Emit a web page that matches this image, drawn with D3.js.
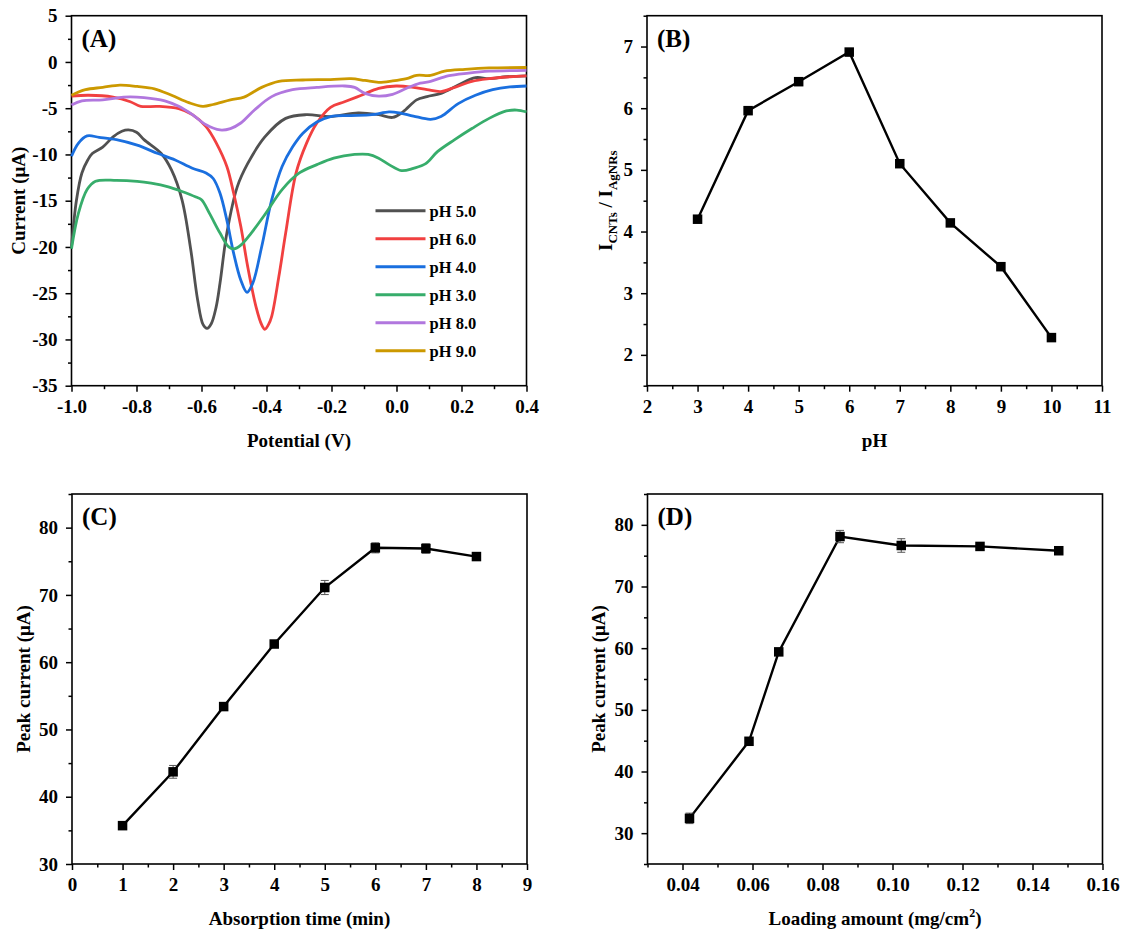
<!DOCTYPE html>
<html>
<head>
<meta charset="utf-8">
<script src="https://cdn.jsdelivr.net/npm/d3@7"></script>
<style>
body { margin: 0; background: #fff; }
text { font-family: "Liberation Serif", "Times New Roman", serif; font-weight: bold; fill: #000; }
</style>
</head>
<body>
<div id="chart-area"></div>
<script>
// ---- panel A: DPV curves, [potential (V), current (uA)] ----
var phLabels = ["pH 5.0", "pH 6.0", "pH 4.0", "pH 3.0", "pH 8.0", "pH 9.0"];
var phColors = ["#515151", "#F14040", "#1A6FDF", "#37AD6B", "#B177DE", "#CC9900"];

var ph50 = [[-1.000,-20.0],[-0.985,-15.0],[-0.968,-12.0],[-0.950,-10.6],[-0.936,-9.9],[-0.904,-9.2],[-0.872,-8.1],[-0.845,-7.5],[-0.825,-7.35],[-0.800,-7.6],[-0.777,-8.4],[-0.724,-9.9],[-0.692,-11.7],[-0.660,-14.9],[-0.633,-20.3],[-0.612,-25.7],[-0.595,-28.4],[-0.583,-28.8],[-0.570,-28.3],[-0.555,-26.5],[-0.543,-23.9],[-0.522,-18.5],[-0.490,-13.5],[-0.458,-11.0],[-0.405,-8.1],[-0.341,-6.1],[-0.278,-5.7],[-0.203,-5.9],[-0.118,-5.5],[-0.055,-5.7],[-0.012,-6.0],[0.020,-5.4],[0.062,-4.1],[0.094,-3.75],[0.137,-3.4],[0.190,-2.5],[0.243,-1.7],[0.285,-1.8],[0.338,-1.6],[0.400,-1.5]];
var ph60 = [[-1.000,-3.7],[-0.947,-3.6],[-0.872,-3.8],[-0.819,-4.3],[-0.787,-4.8],[-0.734,-4.8],[-0.670,-5.05],[-0.628,-5.7],[-0.586,-7.0],[-0.554,-8.8],[-0.522,-11.3],[-0.501,-14.2],[-0.479,-17.8],[-0.458,-22.1],[-0.432,-26.5],[-0.415,-28.4],[-0.405,-28.9],[-0.394,-28.4],[-0.384,-27.5],[-0.362,-23.2],[-0.341,-18.5],[-0.309,-12.0],[-0.277,-8.8],[-0.245,-6.6],[-0.203,-4.9],[-0.160,-4.3],[-0.108,-3.6],[-0.055,-2.85],[-0.001,-2.6],[0.052,-2.75],[0.094,-3.0],[0.137,-3.2],[0.179,-2.75],[0.232,-2.1],[0.285,-1.8],[0.349,-1.6],[0.400,-1.5]];
var ph40 = [[-1.000,-10.2],[-0.979,-8.8],[-0.952,-8.0],[-0.915,-8.15],[-0.862,-8.4],[-0.798,-9.0],[-0.734,-9.9],[-0.681,-10.6],[-0.628,-11.5],[-0.586,-12.0],[-0.564,-12.6],[-0.543,-14.2],[-0.522,-17.1],[-0.501,-20.7],[-0.479,-23.6],[-0.460,-24.9],[-0.442,-23.9],[-0.415,-20.0],[-0.384,-14.9],[-0.352,-11.3],[-0.320,-9.2],[-0.288,-7.7],[-0.245,-6.5],[-0.203,-5.9],[-0.140,-5.8],[-0.076,-5.7],[-0.023,-5.4],[0.009,-5.5],[0.052,-5.85],[0.105,-6.2],[0.137,-5.9],[0.190,-4.5],[0.243,-3.6],[0.296,-3.0],[0.349,-2.7],[0.400,-2.6]];
var ph30 = [[-1.000,-20.2],[-0.979,-16.4],[-0.952,-13.8],[-0.926,-12.9],[-0.862,-12.8],[-0.798,-12.9],[-0.755,-13.1],[-0.702,-13.5],[-0.660,-14.0],[-0.617,-14.6],[-0.600,-14.9],[-0.575,-16.4],[-0.543,-18.5],[-0.516,-20.0],[-0.500,-20.2],[-0.479,-19.8],[-0.447,-18.5],[-0.405,-16.5],[-0.352,-13.8],[-0.299,-12.0],[-0.245,-11.1],[-0.193,-10.4],[-0.129,-10.0],[-0.087,-10.0],[-0.055,-10.4],[-0.023,-11.1],[0.015,-11.75],[0.052,-11.5],[0.090,-11.0],[0.126,-9.7],[0.179,-8.4],[0.232,-7.2],[0.285,-6.1],[0.338,-5.3],[0.370,-5.2],[0.400,-5.4]];
var ph80 = [[-1.000,-4.65],[-0.968,-4.2],[-0.904,-4.1],[-0.840,-3.8],[-0.777,-3.85],[-0.713,-4.2],[-0.670,-4.8],[-0.628,-5.7],[-0.586,-6.8],[-0.543,-7.35],[-0.511,-7.2],[-0.479,-6.6],[-0.437,-5.2],[-0.384,-3.75],[-0.320,-3.0],[-0.245,-2.75],[-0.160,-2.6],[-0.129,-2.75],[-0.097,-3.4],[-0.055,-3.7],[-0.012,-3.5],[0.031,-2.85],[0.073,-2.3],[0.105,-2.1],[0.158,-1.5],[0.222,-1.2],[0.285,-1.0],[0.400,-0.9]];
var ph90 = [[-1.000,-3.6],[-0.957,-3.0],[-0.904,-2.75],[-0.851,-2.5],[-0.798,-2.65],[-0.745,-2.9],[-0.692,-3.6],[-0.639,-4.4],[-0.596,-4.8],[-0.564,-4.6],[-0.511,-4.1],[-0.469,-3.8],[-0.415,-2.75],[-0.362,-2.1],[-0.288,-1.95],[-0.203,-1.9],[-0.140,-1.8],[-0.097,-2.0],[-0.055,-2.2],[-0.012,-2.05],[0.031,-1.8],[0.062,-1.45],[0.105,-1.45],[0.148,-1.0],[0.211,-0.8],[0.285,-0.65],[0.400,-0.6]];
var phCurves = [ph50, ph60, ph40, ph30, ph80, ph90];

// ---- panel B ----
var phValues = [3, 4, 5, 6, 7, 8, 9, 10];
var ratioValues = [4.2, 5.96, 6.43, 6.91, 5.1, 4.14, 3.43, 2.28];

// ---- panel C ----
var timeValues = [1, 2, 3, 4, 5, 6, 7, 8];
var timeCurrent = [35.7, 43.7, 53.4, 62.7, 71.1, 77.0, 76.9, 75.7];
var timeError = [0.3, 0.95, 0.4, 0.5, 1.05, 0.75, 0.7, 0.3];

// ---- panel D ----
var loadValues = [0.042, 0.059, 0.0675, 0.085, 0.1025, 0.125, 0.1475];
var loadCurrent = [32.4, 44.9, 59.4, 78.1, 76.65, 76.5, 75.8];
var loadError = [0.85, 0.3, 0.5, 1.0, 1.1, 0.4, 0.3];

// ---- tick labels ----
var aTicksX = [-1.0, -0.8, -0.6, -0.4, -0.2, 0.0, 0.2, 0.4];
var aTicksY = [-35, -30, -25, -20, -15, -10, -5, 0, 5];
var bTicksX = [2, 3, 4, 5, 6, 7, 8, 9, 10, 11];
var bTicksY = [2, 3, 4, 5, 6, 7];
var cTicksX = [0, 1, 2, 3, 4, 5, 6, 7, 8, 9];
var cTicksY = [30, 40, 50, 60, 70, 80];
var dTicksX = [0.04, 0.06, 0.08, 0.10, 0.12, 0.14, 0.16];
var dTicksY = [30, 40, 50, 60, 70, 80];

var svg = d3.select("#chart-area")
  .append("svg")
  .attr("width", 1126)
  .attr("height", 938);

var pw = 455, ph = 370;

function minorBetween(ticks, n) {
  var out = [];
  for (var i = 0; i < ticks.length - 1; i++) {
    for (var k = 1; k < n; k++) out.push(ticks[i] + (ticks[i + 1] - ticks[i]) * k / n);
  }
  return out;
}

function makePanel(p) {
  var g = svg.append("g")
    .attr("transform", "translate(" + p.left + "," + p.top + ")");

  var x = d3.scaleLinear().domain(p.xDomain).range([0, pw]);
  var y = d3.scaleLinear().domain(p.yDomain).range([ph, 0]);

  // minor ticks
  g.append("g")
    .attr("transform", "translate(0," + ph + ")")
    .call(d3.axisBottom(x).tickValues(p.xMinor).tickSize(3.5).tickSizeOuter(0).tickFormat(""));
  g.append("g")
    .call(d3.axisLeft(y).tickValues(p.yMinor).tickSize(3.5).tickSizeOuter(0).tickFormat(""));

  g.append("g")
    .attr("class", "x axis")
    .attr("transform", "translate(0," + ph + ")")
    .call(d3.axisBottom(x).tickValues(p.xTicks).tickSize(6).tickSizeOuter(0).tickPadding(8).tickFormat(p.xFmt));
  g.append("g")
    .attr("class", "y axis")
    .call(d3.axisLeft(y).tickValues(p.yTicks).tickSize(6).tickSizeOuter(0).tickPadding(8).tickFormat(p.yFmt));

  g.selectAll(".domain").remove();
  g.selectAll(".tick line").attr("stroke", "#000").attr("stroke-width", 1.5);
  g.selectAll(".tick text").attr("font-size", "19px").attr("fill", "#000");

  g.append("rect")
    .attr("width", pw)
    .attr("height", ph)
    .attr("fill", "none")
    .attr("stroke", "#000")
    .attr("stroke-width", 1.6);

  // panel letter
  g.append("text")
    .attr("x", 10)
    .attr("y", 31)
    .attr("font-size", "25px")
    .text(p.label);

  var xt = g.append("text")
    .attr("x", pw / 2)
    .attr("y", ph + 61)
    .attr("font-size", "19px")
    .attr("text-anchor", "middle");
  p.xTitle(xt);

  var yt = g.append("text")
    .attr("transform", "translate(" + p.yTitleX + "," + (ph / 2) + ") rotate(-90)")
    .attr("font-size", "19px")
    .attr("text-anchor", "middle");
  p.yTitle(yt);

  return { g: g, x: x, y: y };
}

function fmt(n) { return function (d) { return d.toFixed(n); }; }

// ---------- panel A ----------
var A = makePanel({
  left: 71.5, top: 15.7,
  xDomain: [-1.0, 0.4], yDomain: [-35, 5],
  xTicks: aTicksX, yTicks: aTicksY,
  xMinor: minorBetween(aTicksX, 2), yMinor: minorBetween(aTicksY, 2),
  xFmt: fmt(1), yFmt: fmt(0),
  label: "(A)",
  xTitle: function (t) { t.text("Potential (V)"); },
  yTitleX: -47,
  yTitle: function (t) { t.text("Current (\u03bcA)"); }
});

var lineA = d3.line()
  .x(function (d) { return A.x(d[0]); })
  .y(function (d) { return A.y(d[1]); })
  .curve(d3.curveCatmullRom.alpha(0.5));

A.g.selectAll(".dpv")
  .data(phCurves)
  .enter().append("path")
  .attr("class", "dpv")
  .attr("d", lineA)
  .attr("fill", "none")
  .attr("stroke", function (d, i) { return phColors[i]; })
  .attr("stroke-width", 2.8)
  .attr("stroke-linejoin", "round");

var legend = A.g.append("g")
  .attr("transform", "translate(304,195)");
phLabels.forEach(function (lab, i) {
  legend.append("line")
    .attr("x1", 0).attr("x2", 50)
    .attr("y1", i * 28).attr("y2", i * 28)
    .attr("stroke", phColors[i])
    .attr("stroke-width", 3);
  legend.append("text")
    .attr("x", 54)
    .attr("y", i * 28 + 6)
    .attr("font-size", "16.5px")
    .text(lab);
});

// ---------- panel B ----------
var B = makePanel({
  left: 647, top: 15.7,
  xDomain: [2, 11], yDomain: [1.5, 7.5],
  xTicks: bTicksX, yTicks: bTicksY,
  xMinor: minorBetween(bTicksX, 2), yMinor: [1.5, 2.5, 3.5, 4.5, 5.5, 6.5, 7.5],
  xFmt: fmt(0), yFmt: fmt(0),
  label: "(B)",
  xTitle: function (t) { t.text("pH"); },
  yTitleX: -35,
  yTitle: function (t) {
    t.append("tspan").text("I");
    t.append("tspan").attr("font-size", "13px").attr("dy", 5).text("CNTs");
    t.append("tspan").attr("dy", -5).text(" / I");
    t.append("tspan").attr("font-size", "13px").attr("dy", 5).text("AgNRs");
  }
});

function drawSeries(P, xs, ys, errs) {
  var pts = xs.map(function (v, i) { return [v, ys[i], errs ? errs[i] : 0]; });
  P.g.append("path")
    .datum(pts)
    .attr("d", d3.line()
      .x(function (d) { return P.x(d[0]); })
      .y(function (d) { return P.y(d[1]); }))
    .attr("fill", "none")
    .attr("stroke", "#000")
    .attr("stroke-width", 2.4);

  if (errs) {
    var eb = P.g.selectAll(".err")
      .data(pts)
      .enter().append("g")
      .attr("class", "err")
      .attr("stroke", "#555")
      .attr("stroke-width", 1);
    eb.append("line")
      .attr("x1", function (d) { return P.x(d[0]); })
      .attr("x2", function (d) { return P.x(d[0]); })
      .attr("y1", function (d) { return P.y(d[1] - d[2]); })
      .attr("y2", function (d) { return P.y(d[1] + d[2]); });
    [-1, 1].forEach(function (s) {
      eb.append("line")
        .attr("x1", function (d) { return P.x(d[0]) - 4; })
        .attr("x2", function (d) { return P.x(d[0]) + 4; })
        .attr("y1", function (d) { return P.y(d[1] + s * d[2]); })
        .attr("y2", function (d) { return P.y(d[1] + s * d[2]); });
    });
  }

  P.g.selectAll(".sq")
    .data(pts)
    .enter().append("rect")
    .attr("class", "sq")
    .attr("x", function (d) { return P.x(d[0]) - 4.75; })
    .attr("y", function (d) { return P.y(d[1]) - 4.75; })
    .attr("width", 9.5)
    .attr("height", 9.5)
    .attr("fill", "#000");
}

drawSeries(B, phValues, ratioValues, null);

// ---------- panel C ----------
var C = makePanel({
  left: 72, top: 494,
  xDomain: [0, 9], yDomain: [30, 85],
  xTicks: cTicksX, yTicks: cTicksY,
  xMinor: minorBetween(cTicksX, 2), yMinor: [35, 45, 55, 65, 75, 85],
  xFmt: fmt(0), yFmt: fmt(0),
  label: "(C)",
  xTitle: function (t) { t.text("Absorption time (min)"); },
  yTitleX: -42,
  yTitle: function (t) { t.text("Peak current (\u03bcA)"); }
});
drawSeries(C, timeValues, timeCurrent, timeError);

// ---------- panel D ----------
var D = makePanel({
  left: 647.5, top: 494,
  xDomain: [0.03, 0.16], yDomain: [25, 85],
  xTicks: dTicksX, yTicks: dTicksY,
  xMinor: [0.03, 0.05, 0.07, 0.09, 0.11, 0.13, 0.15], yMinor: [25, 35, 45, 55, 65, 75, 85],
  xFmt: fmt(2), yFmt: fmt(0),
  label: "(D)",
  xTitle: function (t) {
    t.append("tspan").text("Loading amount (mg/cm");
    t.append("tspan").attr("font-size", "12px").attr("dy", -8).text("2");
    t.append("tspan").attr("dy", 8).text(")");
  },
  yTitleX: -43,
  yTitle: function (t) { t.text("Peak current (\u03bcA)"); }
});
drawSeries(D, loadValues, loadCurrent, loadError);
</script>
</body>
</html>
